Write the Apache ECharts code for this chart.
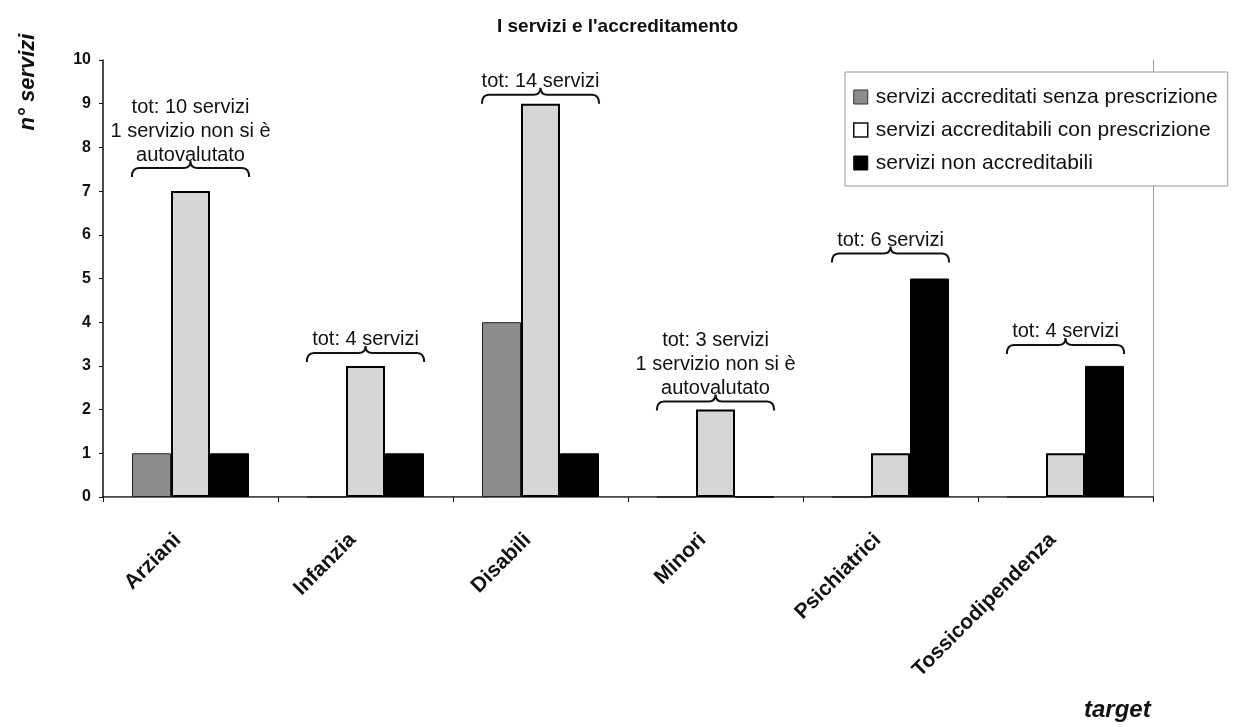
<!DOCTYPE html>
<html>
<head>
<meta charset="utf-8">
<title>I servizi e l'accreditamento</title>
<script src="https://cdn.jsdelivr.net/npm/echarts@6/dist/echarts.min.js"></script>
<style>
  html, body { margin: 0; padding: 0; background: #fff; }
  #chart { width: 1235px; height: 727px; }
</style>
</head>
<body>
<div id="chart"></div>
<script>
// Target groups on the x axis
const categories = ['Arziani', 'Infanzia', 'Disabili', 'Minori', 'Psichiatrici', 'Tossicodipendenza'];

// Number of services per target group
const accreditatiSenzaPrescrizione = [1, 0, 4, 0, 0, 0];
const accreditabiliConPrescrizione = [7, 3, 9, 2, 1, 1];
const nonAccreditabili = [1, 1, 1, 0, 5, 3];

// Series names shown in the legend
const seriesNames = [
  'servizi accreditati senza prescrizione',
  'servizi accreditabili con prescrizione',
  'servizi non accreditabili'
];

// Notes written above each group
const groupNotes = [
  'tot: 10 servizi\n1 servizio non si è\nautovalutato',
  'tot: 4 servizi',
  'tot: 14 servizi',
  'tot: 3 servizi\n1 servizio non si è\nautovalutato',
  'tot: 6 servizi',
  'tot: 4 servizi'
];

// Y axis range
const yMin = 0;
const yMax = 10;
const yStep = 1;

const FONT = '"Liberation Sans", Arial, sans-serif';

// Each brace sits on top of the tallest bar of its group
const groupTops = categories.map((c, i) => [
  i,
  Math.max(accreditatiSenzaPrescrizione[i], accreditabiliConPrescrizione[i], nonAccreditabili[i])
]);

// Distance (px) of each brace above the tallest bar
const braceLift = [23, 13, 9, 8, 25, 21];

function renderBrace(params, api) {
  const i = params.dataIndex;
  const top = api.coord([api.value(0), api.value(1)]);
  const band = api.size([1, 0])[0];
  const half = band * 0.335;
  const x = top[0];
  const y = top[1] - braceLift[i];
  const hook = 9, peak = 7, r = 7;
  const d =
    'M' + (x - half) + ',' + (y + hook) +
    ' Q' + (x - half) + ',' + y + ' ' + (x - half + r) + ',' + y +
    ' L' + (x - r) + ',' + y +
    ' Q' + x + ',' + y + ' ' + x + ',' + (y - peak) +
    ' Q' + x + ',' + y + ' ' + (x + r) + ',' + y +
    ' L' + (x + half - r) + ',' + y +
    ' Q' + (x + half) + ',' + y + ' ' + (x + half) + ',' + (y + hook);
  return {
    type: 'group',
    children: [
      {
        type: 'path',
        shape: { pathData: d },
        style: { stroke: '#111', lineWidth: 2, fill: null }
      },
      {
        type: 'text',
        x: x,
        y: y - 1,
        style: {
          text: groupNotes[i],
          font: '20px ' + FONT,
          fill: '#111',
          align: 'center',
          verticalAlign: 'bottom',
          lineHeight: 24
        }
      }
    ]
  };
}

const chart = echarts.init(document.getElementById('chart'), null, { renderer: 'canvas' });

chart.setOption({
  animation: false,
  backgroundColor: '#fff',
  title: {
    text: "I servizi e l'accreditamento",
    left: 'center',
    top: 12,
    textStyle: { fontFamily: FONT, fontSize: 19, fontWeight: 'bold', color: '#111' }
  },
  legend: {
    orient: 'vertical',
    left: 845,
    top: 72,
    padding: [14, 10, 12, 8],
    itemGap: 11,
    itemWidth: 14,
    itemHeight: 14,
    backgroundColor: '#fff',
    borderColor: '#999',
    borderWidth: 1,
    textStyle: { fontFamily: FONT, fontSize: 21, color: '#111', lineHeight: 22, padding: [0, 0, 0, 3] },
    data: [
      { name: seriesNames[0], icon: 'rect', itemStyle: { color: '#8c8c8c', borderColor: '#333', borderWidth: 1 } },
      { name: seriesNames[1], icon: 'rect', itemStyle: { color: '#fff', borderColor: '#111', borderWidth: 1.5 } },
      { name: seriesNames[2], icon: 'rect', itemStyle: { color: '#000', borderColor: '#000', borderWidth: 1 } }
    ]
  },
  grid: { left: 103, right: 82, top: 60, bottom: 230, containLabel: false },
  graphic: [
    {
      type: 'text',
      x: 28,
      y: 82,
      rotation: Math.PI / 2,
      style: {
        text: 'n° servizi',
        font: 'italic bold 22px ' + FONT,
        fill: '#111',
        align: 'center',
        verticalAlign: 'middle'
      }
    },
    {
      type: 'text',
      left: 1084,
      top: 698,
      style: {
        text: 'target',
        font: 'italic bold 24px ' + FONT,
        fill: '#111'
      }
    }
  ],
  xAxis: [
    {
      type: 'category',
      data: categories,
      position: 'bottom',
      axisLine: { lineStyle: { color: '#111', width: 1.5 } },
      axisTick: { show: true, length: 5, lineStyle: { color: '#111' } },
      axisLabel: {
        rotate: 45,
        margin: 27,
        interval: 0,
        padding: [0, 18, 0, 0],
        fontFamily: FONT,
        fontSize: 21,
        fontWeight: 'bold',
        color: '#111'
      }
    },
    {
      type: 'category',
      data: categories,
      position: 'top',
      axisLine: { show: true, lineStyle: { color: '#777', type: 'dotted', width: 1 } },
      axisTick: { show: false },
      axisLabel: { show: false }
    }
  ],
  yAxis: [
    {
      type: 'value',
      min: yMin,
      max: yMax,
      interval: yStep,
      axisLine: { show: true, lineStyle: { color: '#111', width: 1.5 } },
      axisTick: { show: true, length: 4, lineStyle: { color: '#111' } },
      splitLine: { show: false },
      axisLabel: {
        margin: 12,
        fontFamily: FONT,
        fontSize: 16,
        fontWeight: 'bold',
        color: '#111'
      }
    },
    {
      type: 'value',
      min: yMin,
      max: yMax,
      interval: yStep,
      position: 'right',
      axisLine: { show: true, lineStyle: { color: '#888', type: 'dotted', width: 1 } },
      axisTick: { show: false },
      axisLabel: { show: false },
      splitLine: { show: false }
    }
  ],
  series: [
    {
      name: seriesNames[0],
      type: 'bar',
      data: accreditatiSenzaPrescrizione,
      barWidth: 39,
      barGap: '0%',
      itemStyle: { color: '#8c8c8c', borderColor: '#222', borderWidth: 1 }
    },
    {
      name: seriesNames[1],
      type: 'bar',
      data: accreditabiliConPrescrizione,
      barWidth: 39,
      barGap: '0%',
      itemStyle: { color: '#d6d6d6', borderColor: '#000', borderWidth: 2 }
    },
    {
      name: seriesNames[2],
      type: 'bar',
      data: nonAccreditabili,
      barWidth: 39,
      barGap: '0%',
      itemStyle: { color: '#000', borderColor: '#000', borderWidth: 1 }
    },
    {
      name: 'note',
      type: 'custom',
      renderItem: renderBrace,
      data: groupTops,
      silent: true,
      z: 5
    }
  ]
});
</script>
</body>
</html>
